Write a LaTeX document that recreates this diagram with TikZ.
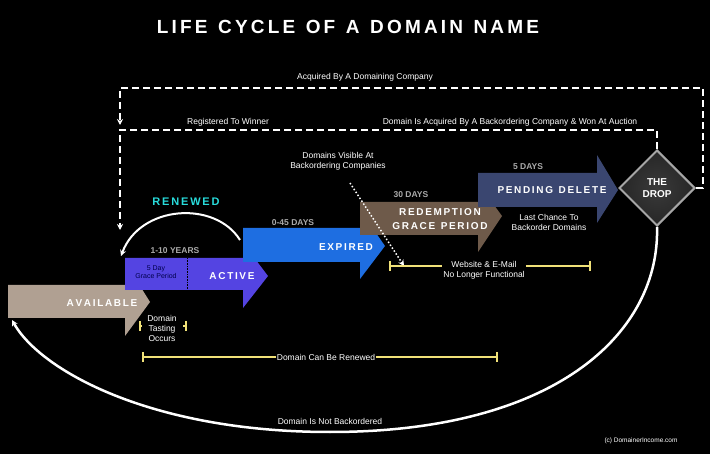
\documentclass[tikz,border=0pt]{standalone}
\usepackage{fontspec}
\setmainfont{Liberation Sans}
\usetikzlibrary{shapes.geometric,arrows.meta}
\definecolor{avail}{RGB}{176,160,146}
\definecolor{activec}{RGB}{84,68,226}
\definecolor{expc}{RGB}{30,110,225}
\definecolor{redc}{RGB}{110,90,74}
\definecolor{pendc}{RGB}{58,70,112}
\definecolor{yel}{RGB}{240,225,120}
\definecolor{grayt}{RGB}{170,170,170}
\definecolor{cyanr}{RGB}{40,220,220}
\tikzset{
  lbl/.style={text=white,font=\fontsize{8.5}{10}\selectfont,align=center,inner sep=1pt},
  stage/.style={text=white,font=\bfseries\fontsize{10}{12}\selectfont,align=center,inner sep=0pt},
  dur/.style={text=grayt,font=\bfseries\fontsize{8.5}{10}\selectfont,inner sep=0pt},
  dashline/.style={draw=white,line width=2.8pt,dash pattern=on 7pt off 4pt},
  yline/.style={draw=yel,line width=1.2pt},
  arr/.style={-{Stealth[length=6pt,width=6pt]}}
}
\begin{document}
\begin{tikzpicture}[x=1pt,y=-1pt]
\fill[black] (0,0) rectangle (710,454);
\useasboundingbox (0,0) rectangle (710,454);
\node[text=white,font=\bfseries\fontsize{19}{22}\selectfont] (title) at (348,27) {L\,I\,F\,E\ \ C\,Y\,C\,L\,E\ \ O\,F\ \ A\ \ D\,O\,M\,A\,I\,N\ \ N\,A\,M\,E};
% arrows
\fill[avail] (8,285) -- (125,285) -- (125,262) -- (150,302) -- (125,336) -- (125,318) -- (8,318) -- cycle;
\fill[activec] (125,258) -- (243,258) -- (243,243) -- (268,276) -- (243,308) -- (243,290) -- (125,290) -- cycle;
\fill[expc] (243,228) -- (360,228) -- (360,210) -- (385,246) -- (360,279) -- (360,262) -- (243,262) -- cycle;
\fill[redc] (360,202) -- (478,202) -- (478,183) -- (502,216) -- (478,252) -- (478,235) -- (360,235) -- cycle;
\fill[pendc] (478,173) -- (597,173) -- (597,155) -- (618,190) -- (597,223) -- (597,207) -- (478,207) -- cycle;
\draw[black,densely dotted,line width=0.6pt] (187,258) -- (187,290);
\node[stage] (av) at (102,303) {A\,V\,A\,I\,L\,A\,B\,L\,E};
\node[stage] (ac) at (232,276) {A\,C\,T\,I\,V\,E};
\node[text=black!70!blue,font=\fontsize{7}{8}\selectfont,align=center] (grace) at (156,272) {5 Day\\Grace Period};
\node[stage] (ex) at (346,247) {E\,X\,P\,I\,R\,E\,D};
\node[stage] (rd) at (440,219) {R\,E\,D\,E\,M\,P\,T\,I\,O\,N\\[2pt]G\,R\,A\,C\,E\ \ P\,E\,R\,I\,O\,D};
\node[stage] (pd) at (552,190) {P\,E\,N\,D\,I\,N\,G\ \ D\,E\,L\,E\,T\,E};
\node[dur] (d1) at (175,251) {1-10 YEARS};
\node[dur] (d2) at (293,223) {0-45 DAYS};
\node[dur] (d3) at (411,195) {30 DAYS};
\node[dur] (d4) at (528,167) {5 DAYS};
\node[diamond,minimum width=76pt,minimum height=76pt,inner sep=0pt,draw=gray!70,line width=2pt,
  inner color=gray!45!black,outer color=black!85,text=white,font=\bfseries\fontsize{10}{12}\selectfont,align=center] (drop) at (657,188) {THE\\DROP};
% dashed loops
\coordinate (t1) at (120,125);
\draw[dashline,arr] (drop.east) -- (703,188) -- (703,88) -- (120,88) -- (t1);
\coordinate (t2) at (120,230);
\draw[dashline,arr] (drop.north) -- (657,130) -- (120,130) -- (t2);
\node[lbl,fill=black] (l1) at (365,77) {Acquired By A Domaining Company};
\node[lbl,fill=black] (l2) at (228,122) {Registered To Winner};
\node[lbl,fill=black] (l3) at (510,122) {Domain Is Acquired By A Backordering Company \& Won At Auction};
% dotted
\node[lbl] (vis) at (338,161) {Domains Visible At\\Backordering Companies};
\coordinate (vend) at (404,266);
\draw[white,line width=1.5pt,dotted,arr] (350,183) -- (vend);
% renewed
\coordinate (rend) at (121,256);
\draw[white,line width=2pt,arr] (240,240) .. controls (215,200) and (140,205) .. (rend);
\node[text=cyanr,font=\bfseries\fontsize{11}{13}\selectfont] (ren) at (186,202) {R\,E\,N\,E\,W\,E\,D};
% yellow brackets
\node[lbl] (web) at (484,270) {Website \& E-Mail\\No Longer Functional};
\draw[yline] (390,261) -- (390,271); \draw[yline] (590,261) -- (590,271);
\draw[yline] (390,266) -- (web.west |- 0,266); \draw[yline] (web.east |- 0,266) -- (590,266);
\node[lbl] (last) at (549,222) {Last Chance To\\Backorder Domains};
\node[lbl] (taste) at (162,328) {Domain\\Tasting\\Occurs};
\draw[yline] (140,321) -- (140,331); \draw[yline] (186,321) -- (186,331);
\draw[yline] (140,326) -- (142,326); \draw[yline] (183,326) -- (186,326);
\node[lbl] (renew) at (326,357) {Domain Can Be Renewed};
\draw[yline] (143,352) -- (143,362); \draw[yline] (497,352) -- (497,362);
\draw[yline] (143,357) -- (renew.west); \draw[yline] (renew.east) -- (497,357);
% bottom arc
\coordinate (aend) at (12,320);
\draw[white,line width=2.5pt,arr] (drop.south) .. controls (660,330) and (560,432) .. (330,432) .. controls (150,432) and (40,370) .. (aend);
\node[lbl,fill=black] (nb) at (330,421) {Domain Is Not Backordered};
\node[text=white,font=\fontsize{6.5}{7.5}\selectfont] (copy) at (641,441) {(c) DomainerIncome.com};
\end{tikzpicture}
\end{document}
